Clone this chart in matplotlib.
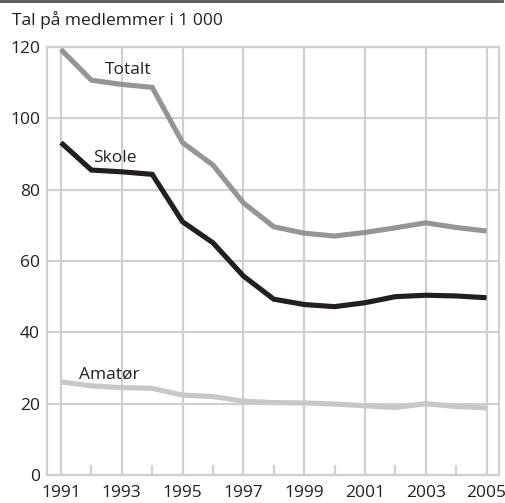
import matplotlib
matplotlib.use("Agg")
import matplotlib.pyplot as plt
from matplotlib.lines import Line2D

years = list(range(1991, 2006))
totalt = [119.3, 110.7, 109.5, 108.7, 93.2, 86.9, 76.3, 69.6, 67.8, 67.0, 68.0, 69.3, 70.7, 69.4, 68.4]
skole = [93.2, 85.5, 85.0, 84.3, 71.0, 65.1, 55.8, 49.3, 47.8, 47.2, 48.3, 50.0, 50.4, 50.2, 49.7]
amator = [26.1, 25.0, 24.5, 24.3, 22.4, 22.0, 20.7, 20.3, 20.2, 19.9, 19.4, 18.9, 20.0, 19.2, 18.8]
series_names = ["Totalt", "Skole", "Amatør"]
major_years = list(range(1991, 2006, 2))
minor_years = list(range(1992, 2005, 2))
y_ticks = [0, 20, 40, 60, 80, 100, 120]
title = "Tal på medlemmer i 1 000"

plt.rcParams['font.family'] = ['Open Sans', 'DejaVu Sans']
fig = plt.figure(figsize=(5.05, 5.03), dpi=100)
ax = fig.add_axes([47/505, 1-475/503, (499-47)/505, (475-47)/503])

grid_c = "#cfd0d2"
colors = ["#939598", "#231f20", "#c7c8ca"]
for vals, c in zip([totalt, skole, amator], colors):
    ax.plot(years, vals, color=c, lw=3.7, solid_joinstyle='miter', solid_capstyle='butt', zorder=3)

ax.set_xlim(1990.54, 2005.41)
ax.set_ylim(0, 120)
ax.set_xticks(major_years)
ax.set_xticks(minor_years, minor=True)
ax.set_yticks(y_ticks)
ax.grid(True, which='major', color=grid_c, lw=1.6, zorder=1)
for s in ax.spines.values():
    s.set_color(grid_c)
    s.set_linewidth(1.6)
ax.tick_params(axis='both', which='major', length=0, labelsize=12.5, colors="#231f20", pad=5)
ax.tick_params(axis='x', which='minor', direction='in', length=7, width=1.6, color=grid_c)
ax.tick_params(axis='x', which='major', pad=7)

ax.text(1992.45, 111.2, series_names[0], fontsize=12.5, color="#231f20", ha='left', va='bottom')
ax.text(1992.05, 86.6, series_names[1], fontsize=12.5, color="#231f20", ha='left', va='bottom')
ax.text(1991.6, 26.0, series_names[2], fontsize=12.5, color="#231f20", ha='left', va='bottom')

fig.text(12/505, 1-20/503, title, fontsize=12.5, color="#231f20", ha='left', va='center')
fig.add_artist(Line2D([0, 502/505], [1-1/503, 1-1/503], color="#555555", lw=2, transform=fig.transFigure))

fig.savefig("out.png", dpi=100)
